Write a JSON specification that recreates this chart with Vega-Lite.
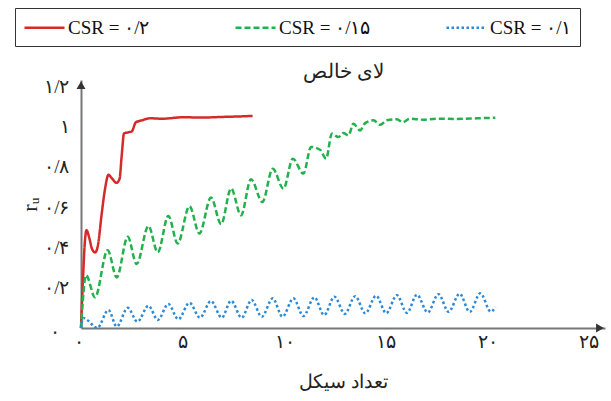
{
  "$schema": "https://vega.github.io/schema/vega-lite/v6.json",
  "width": 524,
  "height": 248,
  "autosize": {"type": "none"},
  "padding": {"left": 81, "top": 80, "right": 6, "bottom": 73},
  "background": "white",
  "config": {"view": {"stroke": null}, "font": "Liberation Serif"},
  "title": {"text": "لای خالص", "fontSize": 20, "fontWeight": "normal", "font": "Liberation Serif", "color": "#222", "anchor": "middle", "offset": -74},
  "datasets": {
    "curves": [
      {"series": "CSR = ۰/۲", "cycle": 0, "ru": 0},
      {"series": "CSR = ۰/۲", "cycle": 0.1, "ru": 0.25},
      {"series": "CSR = ۰/۲", "cycle": 0.2, "ru": 0.44},
      {"series": "CSR = ۰/۲", "cycle": 0.27, "ru": 0.485},
      {"series": "CSR = ۰/۲", "cycle": 0.4, "ru": 0.45},
      {"series": "CSR = ۰/۲", "cycle": 0.55, "ru": 0.39},
      {"series": "CSR = ۰/۲", "cycle": 0.7, "ru": 0.375},
      {"series": "CSR = ۰/۲", "cycle": 0.85, "ru": 0.42},
      {"series": "CSR = ۰/۲", "cycle": 1.0, "ru": 0.55},
      {"series": "CSR = ۰/۲", "cycle": 1.2, "ru": 0.7},
      {"series": "CSR = ۰/۲", "cycle": 1.35, "ru": 0.76},
      {"series": "CSR = ۰/۲", "cycle": 1.5, "ru": 0.745},
      {"series": "CSR = ۰/۲", "cycle": 1.75, "ru": 0.72},
      {"series": "CSR = ۰/۲", "cycle": 1.9, "ru": 0.74},
      {"series": "CSR = ۰/۲", "cycle": 2.0, "ru": 0.85},
      {"series": "CSR = ۰/۲", "cycle": 2.12, "ru": 0.965},
      {"series": "CSR = ۰/۲", "cycle": 2.3, "ru": 0.97},
      {"series": "CSR = ۰/۲", "cycle": 2.5, "ru": 0.975},
      {"series": "CSR = ۰/۲", "cycle": 2.7, "ru": 1.02},
      {"series": "CSR = ۰/۲", "cycle": 3.0, "ru": 1.03},
      {"series": "CSR = ۰/۲", "cycle": 3.4, "ru": 1.04},
      {"series": "CSR = ۰/۲", "cycle": 4.0, "ru": 1.038},
      {"series": "CSR = ۰/۲", "cycle": 5.0, "ru": 1.045},
      {"series": "CSR = ۰/۲", "cycle": 6.0, "ru": 1.044},
      {"series": "CSR = ۰/۲", "cycle": 7.0, "ru": 1.047},
      {"series": "CSR = ۰/۲", "cycle": 8.0, "ru": 1.05},
      {"series": "CSR = ۰/۲", "cycle": 8.45, "ru": 1.052},

      {"series": "CSR = ۰/۱۵", "cycle": 0, "ru": 0},
      {"series": "CSR = ۰/۱۵", "cycle": 0.25, "ru": 0.262},
      {"series": "CSR = ۰/۱۵", "cycle": 0.69, "ru": 0.152},
      {"series": "CSR = ۰/۱۵", "cycle": 1.31, "ru": 0.386},
      {"series": "CSR = ۰/۱۵", "cycle": 1.76, "ru": 0.251},
      {"series": "CSR = ۰/۱۵", "cycle": 2.3, "ru": 0.452},
      {"series": "CSR = ۰/۱۵", "cycle": 2.74, "ru": 0.317},
      {"series": "CSR = ۰/۱۵", "cycle": 3.32, "ru": 0.506},
      {"series": "CSR = ۰/۱۵", "cycle": 3.78, "ru": 0.375},
      {"series": "CSR = ۰/۱۵", "cycle": 4.3, "ru": 0.556},
      {"series": "CSR = ۰/۱۵", "cycle": 4.76, "ru": 0.419},
      {"series": "CSR = ۰/۱۵", "cycle": 5.34, "ru": 0.604},
      {"series": "CSR = ۰/۱۵", "cycle": 5.83, "ru": 0.469},
      {"series": "CSR = ۰/۱۵", "cycle": 6.4, "ru": 0.647},
      {"series": "CSR = ۰/۱۵", "cycle": 6.9, "ru": 0.515},
      {"series": "CSR = ۰/۱۵", "cycle": 7.39, "ru": 0.692},
      {"series": "CSR = ۰/۱۵", "cycle": 7.88, "ru": 0.559},
      {"series": "CSR = ۰/۱۵", "cycle": 8.37, "ru": 0.738},
      {"series": "CSR = ۰/۱۵", "cycle": 8.93, "ru": 0.625},
      {"series": "CSR = ۰/۱۵", "cycle": 9.44, "ru": 0.79},
      {"series": "CSR = ۰/۱۵", "cycle": 9.97, "ru": 0.691},
      {"series": "CSR = ۰/۱۵", "cycle": 10.43, "ru": 0.84},
      {"series": "CSR = ۰/۱۵", "cycle": 10.95, "ru": 0.766},
      {"series": "CSR = ۰/۱۵", "cycle": 11.33, "ru": 0.898},
      {"series": "CSR = ۰/۱۵", "cycle": 11.77, "ru": 0.884},
      {"series": "CSR = ۰/۱۵", "cycle": 12.07, "ru": 0.84},
      {"series": "CSR = ۰/۱۵", "cycle": 12.35, "ru": 0.964},
      {"series": "CSR = ۰/۱۵", "cycle": 12.68, "ru": 0.947},
      {"series": "CSR = ۰/۱۵", "cycle": 12.92, "ru": 0.967},
      {"series": "CSR = ۰/۱۵", "cycle": 13.17, "ru": 0.955},
      {"series": "CSR = ۰/۱۵", "cycle": 13.41, "ru": 1.013},
      {"series": "CSR = ۰/۱۵", "cycle": 13.74, "ru": 0.98},
      {"series": "CSR = ۰/۱۵", "cycle": 13.99, "ru": 1.016},
      {"series": "CSR = ۰/۱۵", "cycle": 14.4, "ru": 1.03},
      {"series": "CSR = ۰/۱۵", "cycle": 14.73, "ru": 1.008},
      {"series": "CSR = ۰/۱۵", "cycle": 15.06, "ru": 1.03},
      {"series": "CSR = ۰/۱۵", "cycle": 15.55, "ru": 1.035},
      {"series": "CSR = ۰/۱۵", "cycle": 15.84, "ru": 1.021},
      {"series": "CSR = ۰/۱۵", "cycle": 16.2, "ru": 1.038},
      {"series": "CSR = ۰/۱۵", "cycle": 16.86, "ru": 1.033},
      {"series": "CSR = ۰/۱۵", "cycle": 17.5, "ru": 1.038},
      {"series": "CSR = ۰/۱۵", "cycle": 18.5, "ru": 1.037},
      {"series": "CSR = ۰/۱۵", "cycle": 19.5, "ru": 1.04},
      {"series": "CSR = ۰/۱۵", "cycle": 20.4, "ru": 1.043},

      {"series": "CSR = ۰/۱", "cycle": 0, "ru": 0},
      {"series": "CSR = ۰/۱", "cycle": 0.1, "ru": 0.05},
      {"series": "CSR = ۰/۱", "cycle": 0.3, "ru": 0.04},
      {"series": "CSR = ۰/۱", "cycle": 0.8, "ru": 0.0},
      {"series": "CSR = ۰/۱", "cycle": 1.35, "ru": 0.089},
      {"series": "CSR = ۰/۱", "cycle": 1.76, "ru": 0.007},
      {"series": "CSR = ۰/۱", "cycle": 2.3, "ru": 0.1},
      {"series": "CSR = ۰/۱", "cycle": 2.78, "ru": 0.031},
      {"series": "CSR = ۰/۱", "cycle": 3.32, "ru": 0.11},
      {"series": "CSR = ۰/۱", "cycle": 3.78, "ru": 0.04},
      {"series": "CSR = ۰/۱", "cycle": 4.3, "ru": 0.119},
      {"series": "CSR = ۰/۱", "cycle": 4.79, "ru": 0.043},
      {"series": "CSR = ۰/۱", "cycle": 5.34, "ru": 0.125},
      {"series": "CSR = ۰/۱", "cycle": 5.86, "ru": 0.051},
      {"series": "CSR = ۰/۱", "cycle": 6.4, "ru": 0.134},
      {"series": "CSR = ۰/۱", "cycle": 6.93, "ru": 0.051},
      {"series": "CSR = ۰/۱", "cycle": 7.39, "ru": 0.135},
      {"series": "CSR = ۰/۱", "cycle": 7.91, "ru": 0.051},
      {"series": "CSR = ۰/۱", "cycle": 8.4, "ru": 0.139},
      {"series": "CSR = ۰/۱", "cycle": 8.9, "ru": 0.056},
      {"series": "CSR = ۰/۱", "cycle": 9.44, "ru": 0.147},
      {"series": "CSR = ۰/۱", "cycle": 9.92, "ru": 0.056},
      {"series": "CSR = ۰/۱", "cycle": 10.46, "ru": 0.147},
      {"series": "CSR = ۰/۱", "cycle": 10.95, "ru": 0.059},
      {"series": "CSR = ۰/۱", "cycle": 11.49, "ru": 0.152},
      {"series": "CSR = ۰/۱", "cycle": 11.97, "ru": 0.064},
      {"series": "CSR = ۰/۱", "cycle": 12.48, "ru": 0.155},
      {"series": "CSR = ۰/۱", "cycle": 12.99, "ru": 0.07},
      {"series": "CSR = ۰/۱", "cycle": 13.5, "ru": 0.158},
      {"series": "CSR = ۰/۱", "cycle": 14.0, "ru": 0.073},
      {"series": "CSR = ۰/۱", "cycle": 14.53, "ru": 0.16},
      {"series": "CSR = ۰/۱", "cycle": 15.03, "ru": 0.073},
      {"series": "CSR = ۰/۱", "cycle": 15.55, "ru": 0.163},
      {"series": "CSR = ۰/۱", "cycle": 16.05, "ru": 0.075},
      {"series": "CSR = ۰/۱", "cycle": 16.54, "ru": 0.165},
      {"series": "CSR = ۰/۱", "cycle": 17.07, "ru": 0.077},
      {"series": "CSR = ۰/۱", "cycle": 17.6, "ru": 0.168},
      {"series": "CSR = ۰/۱", "cycle": 18.1, "ru": 0.08},
      {"series": "CSR = ۰/۱", "cycle": 18.64, "ru": 0.17},
      {"series": "CSR = ۰/۱", "cycle": 19.14, "ru": 0.08},
      {"series": "CSR = ۰/۱", "cycle": 19.66, "ru": 0.172},
      {"series": "CSR = ۰/۱", "cycle": 20.18, "ru": 0.081},
      {"series": "CSR = ۰/۱", "cycle": 20.4, "ru": 0.105}
    ],
    "arrows": [
      {"cycle": 0, "ru": 1.205, "shape": "triangle-up"},
      {"cycle": 25.55, "ru": 0, "shape": "triangle-right"}
    ]
  },
  "layer": [
    {
      "data": {"name": "curves"},
      "mark": {"type": "line", "interpolate": "monotone", "strokeWidth": 2.5, "strokeCap": "butt"},
      "encoding": {
        "x": {
          "field": "cycle", "type": "quantitative",
          "scale": {"domain": [0, 25.8], "nice": false, "zero": false},
          "axis": {
            "values": [0, 5, 10, 15, 20, 25],
            "labelExpr": "datum.value == 0 ? '۰' : datum.value == 5 ? '۵' : datum.value == 10 ? '۱۰' : datum.value == 15 ? '۱۵' : datum.value == 20 ? '۲۰' : '۲۵'",
            "labelOffset": {"condition": {"test": "datum.value == 0", "value": -8}, "value": 0},
            "ticks": false, "grid": false,
            "domainColor": "#777", "domainWidth": 2,
            "labelFontSize": 19, "labelColor": "#222", "labelPadding": 4,
            "labelFont": "Liberation Serif",
            "title": "تعداد سیکل", "titleFontSize": 19, "titleFontWeight": "normal",
            "titleFont": "Liberation Serif", "titleColor": "#222", "titlePadding": 21
          }
        },
        "y": {
          "field": "ru", "type": "quantitative",
          "scale": {"domain": [0, 1.23], "nice": false},
          "axis": {
            "values": [0, 0.2, 0.4, 0.6, 0.8, 1, 1.2],
            "labelExpr": "round(datum.value*10) == 0 ? '۰' : round(datum.value*10) == 2 ? '۰/۲' : round(datum.value*10) == 4 ? '۰/۴' : round(datum.value*10) == 6 ? '۰/۶' : round(datum.value*10) == 8 ? '۰/۸' : round(datum.value*10) == 10 ? '۱' : '۱/۲'",
            "labelPadding": {"condition": {"test": "datum.value == 0", "value": 22}, "value": 12},
            "labelOffset": {"condition": {"test": "datum.value == 0", "value": 3}, "value": 0},
            "ticks": false, "grid": false,
            "domainColor": "#777", "domainWidth": 2,
            "labelFontSize": 19, "labelColor": "#222",
            "labelFont": "Liberation Serif",
            "title": "rᵤ", "titleFontSize": 22, "titleFontWeight": "normal",
            "titleFont": "Liberation Serif", "titleColor": "#222", "titlePadding": 2
          }
        },
        "color": {
          "field": "series", "type": "nominal",
          "scale": {"domain": ["CSR = ۰/۲", "CSR = ۰/۱۵", "CSR = ۰/۱"], "range": ["#d42a2a", "#22b14c", "#2b8ad8"]},
          "legend": {
            "orient": "none", "legendX": -66, "legendY": -72,
            "direction": "horizontal", "columns": 3, "title": null,
            "strokeColor": "#333", "padding": 8, "gridAlign": "all",
            "symbolType": "M-1,0H3", "symbolSize": 400, "symbolStrokeWidth": 2.5,
            "labelOffset": 22, "labelFontSize": 19, "labelFont": "Liberation Serif",
            "labelColor": "#111", "columnPadding": 70, "labelLimit": 200
          }
        },
        "strokeDash": {
          "field": "series", "type": "nominal",
          "scale": {"domain": ["CSR = ۰/۲", "CSR = ۰/۱۵", "CSR = ۰/۱"], "range": [[1, 0], [6, 3], [2.5, 2.5]]}
        }
      }
    },
    {
      "data": {"name": "arrows"},
      "mark": {"type": "point", "filled": true, "color": "#333", "size": 80, "opacity": 1},
      "encoding": {
        "x": {"field": "cycle", "type": "quantitative"},
        "y": {"field": "ru", "type": "quantitative"},
        "shape": {"field": "shape", "type": "nominal", "scale": null}
      }
    }
  ]
}
